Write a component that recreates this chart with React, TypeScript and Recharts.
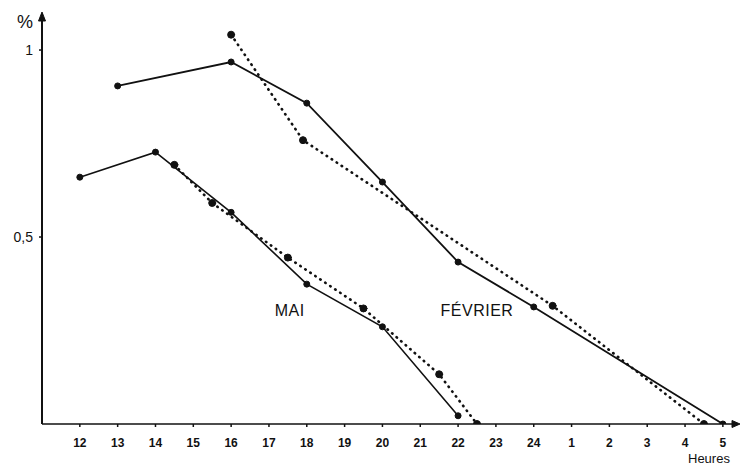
import {
  LineChart,
  Line,
  XAxis,
  YAxis,
  ReferenceDot,
} from "recharts";

// Hours run past midnight: 25 = 1h, 29 = 5h
const hourTicks = [12, 13, 14, 15, 16, 17, 18, 19, 20, 21, 22, 23, 24, 25, 26, 27, 28, 29];
const valueTicks = [0.5, 1];

// FÉVRIER
const febSolidHours = [13, 16, 18, 20, 22, 24, 29];
const febSolidValues = [0.904, 0.968, 0.858, 0.647, 0.433, 0.313, 0];
const febDottedHours = [16, 17.9, 24.5, 28.5];
const febDottedValues = [1.041, 0.759, 0.316, 0];

// MAI
const maiSolidHours = [12, 14, 16, 18, 20, 22];
const maiSolidValues = [0.66, 0.727, 0.566, 0.374, 0.26, 0.022];
const maiDottedHours = [14.5, 15.5, 17.5, 19.5, 21.5, 22.5];
const maiDottedValues = [0.693, 0.591, 0.445, 0.309, 0.133, 0];

const toSeries = (hours: number[], values: number[]) =>
  hours.map((h, i) => ({ h, v: values[i] }));

const FONT = '"Liberation Sans", Arial, sans-serif';
const INK = "#111";

const hourLabel = (h: number) => String(h > 24 ? h - 24 : h);

// Arrow head + "%" on top of the value axis
const YAxisDecor = (props: any) => {
  const vb = props.viewBox || {};
  const ax = Number(vb.x) + Number(vb.width);
  const top = Number(vb.y);
  return (
    <g>
      <path d={`M${ax},${top + 4} L${ax},${top - 2}`} stroke={INK} strokeWidth={2} />
      <path
        d={`M${ax},${top - 4} L${ax - 3.5},${top + 5} L${ax + 3.5},${top + 5} Z`}
        fill={INK}
        stroke={INK}
        strokeWidth={1}
      />
      <text x={ax - 17} y={top + 12} fontSize={18} fontFamily={FONT} fill={INK} textAnchor="middle">
        %
      </text>
    </g>
  );
};

// Arrow head + "Heures" at the end of the time axis
const XAxisDecor = (props: any) => {
  const vb = props.viewBox || {};
  const right = Number(vb.x) + Number(vb.width);
  const ay = Number(vb.y);
  return (
    <g>
      <path
        d={`M${right + 2},${ay} L${right - 6},${ay - 3.5} L${right - 6},${ay + 3.5} Z`}
        fill={INK}
        stroke={INK}
        strokeWidth={1}
      />
      <text x={right - 50} y={ay + 39} fontSize={13} fontFamily={FONT} fill={INK}>
        Heures
      </text>
    </g>
  );
};

const monthLabel = (text: string) => (props: any) => {
  const vb = props.viewBox || {};
  const cx = vb.x + (vb.width || 0) / 2;
  const cy = vb.y + (vb.height || 0) / 2;
  return (
    <text x={cx} y={cy} dy={6} textAnchor="middle" fontSize={16} letterSpacing={0.5} fontFamily={FONT} fill={INK}>
      {text}
    </text>
  );
};

export default function App() {
  return (
    <div style={{ position: "absolute", left: 0, top: 0, background: "#fff" }}>
      <LineChart
        width={741}
        height={465}
        margin={{ top: 16, right: 3, bottom: 0, left: 0 }}
        style={{ fontFamily: FONT }}
      >
        <XAxis
          type="number"
          dataKey="h"
          domain={[11, 29.4]}
          ticks={hourTicks}
          tickFormatter={hourLabel}
          allowDataOverflow
          height={41}
          stroke={INK}
          axisLine={{ stroke: INK, strokeWidth: 1.5 }}
          tickLine={{ stroke: INK, strokeWidth: 1.5 }}
          tickSize={3}
          tickMargin={11}
          tick={{ fontSize: 12, fontWeight: 700, fill: INK, fontFamily: FONT }}
          label={<XAxisDecor />}
        />
        <YAxis
          type="number"
          domain={[0, 1.091]}
          ticks={valueTicks}
          tickFormatter={(v: number) => String(v).replace(".", ",")}
          allowDataOverflow
          width={42}
          axisLine={{ stroke: INK, strokeWidth: 2 }}
          tickLine={{ stroke: INK, strokeWidth: 1.5 }}
          tickSize={3}
          tickMargin={6}
          tick={{ fontSize: 14, fill: INK, fontFamily: FONT }}
          label={<YAxisDecor />}
        />

        <Line
          data={toSeries(febSolidHours, febSolidValues)}
          dataKey="v"
          stroke={INK}
          strokeWidth={1.8}
          dot={{ r: 3, fill: INK, stroke: INK, strokeWidth: 1 }}
          isAnimationActive={false}
        />
        <Line
          data={toSeries(febDottedHours, febDottedValues)}
          dataKey="v"
          stroke={INK}
          strokeWidth={2.6}
          strokeLinecap="round"
          strokeDasharray="0.5 5.5"
          dot={{ r: 3.5, fill: INK, stroke: INK, strokeWidth: 1, strokeDasharray: "" }}
          isAnimationActive={false}
        />
        <Line
          data={toSeries(maiSolidHours, maiSolidValues)}
          dataKey="v"
          stroke={INK}
          strokeWidth={1.6}
          dot={{ r: 3, fill: INK, stroke: INK, strokeWidth: 1 }}
          isAnimationActive={false}
        />
        <Line
          data={toSeries(maiDottedHours, maiDottedValues)}
          dataKey="v"
          stroke={INK}
          strokeWidth={2.6}
          strokeLinecap="round"
          strokeDasharray="0.5 5.5"
          dot={{ r: 3.5, fill: INK, stroke: INK, strokeWidth: 1, strokeDasharray: "" }}
          isAnimationActive={false}
        />

        <ReferenceDot x={17.55} y={0.305} r={0} fill="none" stroke="none" label={monthLabel("MAI")} />
        <ReferenceDot x={22.5} y={0.305} r={0} fill="none" stroke="none" label={monthLabel("FÉVRIER")} />
      </LineChart>
    </div>
  );
}
